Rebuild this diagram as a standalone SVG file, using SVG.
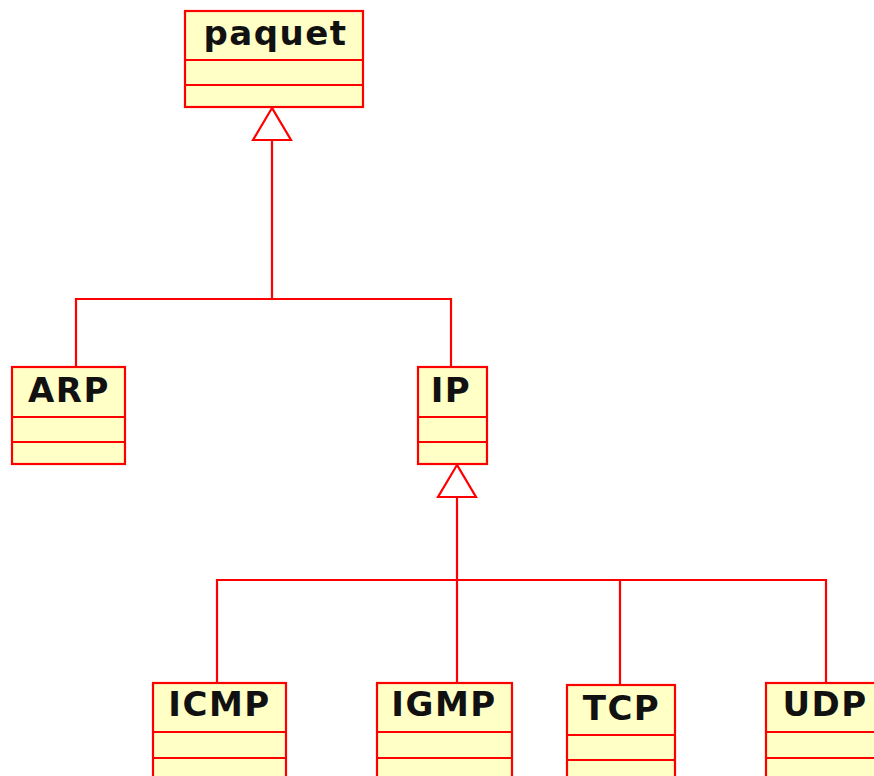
<svg xmlns="http://www.w3.org/2000/svg" width="874" height="776" viewBox="0 0 874 776">
<style>
.box{fill:#ffffc6;stroke:#ff0000;stroke-width:2.2}
.div{stroke:#ff0000;stroke-width:2.2}
.lbl{font-family:"DejaVu Sans",sans-serif;font-weight:bold;font-size:34px;letter-spacing:1.5px;fill:#111;text-anchor:middle}
.con{fill:none;stroke:#ff0000;stroke-width:2.2}
.tri{fill:#ffffff;stroke:#ff0000;stroke-width:2.2}
</style>
<rect width="874" height="776" fill="#ffffff"/>
<g id="connectors">
<polyline class="con" points="272,140 272,299"/>
<polyline class="con" points="76,367 76,299 451,299 451,367"/>
<polygon class="tri" points="272,108 253,140 291,140"/>
<polyline class="con" points="457,497 457,683"/>
<polyline class="con" points="217,683 217,580 826,580 826,683"/>
<polyline class="con" points="620,580 620,685"/>
<polygon class="tri" points="457,465 438,497 476,497"/>
</g>
<g id="paquet">
<rect class="box" x="185" y="11" width="178" height="96"/>
<line class="div" x1="185" y1="60" x2="363" y2="60"/>
<line class="div" x1="185" y1="85" x2="363" y2="85"/>
<text class="lbl" x="275.5" y="45">paquet</text>
</g>
<g id="ARP">
<rect class="box" x="12" y="367" width="113" height="97"/>
<line class="div" x1="12" y1="417" x2="125" y2="417"/>
<line class="div" x1="12" y1="442" x2="125" y2="442"/>
<text class="lbl" x="69" y="402">ARP</text>
</g>
<g id="IP">
<rect class="box" x="418" y="367" width="69" height="97"/>
<line class="div" x1="418" y1="417" x2="487" y2="417"/>
<line class="div" x1="418" y1="442" x2="487" y2="442"/>
<text class="lbl" x="451" y="402">IP</text>
</g>
<g id="ICMP">
<rect class="box" x="153" y="683" width="133" height="110"/>
<line class="div" x1="153" y1="732" x2="286" y2="732"/>
<line class="div" x1="153" y1="758" x2="286" y2="758"/>
<text class="lbl" x="219.5" y="716">ICMP</text>
</g>
<g id="IGMP">
<rect class="box" x="377" y="683" width="135" height="110"/>
<line class="div" x1="377" y1="732" x2="512" y2="732"/>
<line class="div" x1="377" y1="758" x2="512" y2="758"/>
<text class="lbl" x="444" y="716">IGMP</text>
</g>
<g id="TCP">
<rect class="box" x="567" y="685" width="108" height="110"/>
<line class="div" x1="567" y1="735" x2="675" y2="735"/>
<line class="div" x1="567" y1="760" x2="675" y2="760"/>
<text class="lbl" x="621.5" y="720">TCP</text>
</g>
<g id="UDP">
<rect class="box" x="766" y="683" width="120" height="110"/>
<line class="div" x1="766" y1="732" x2="886" y2="732"/>
<line class="div" x1="766" y1="758" x2="886" y2="758"/>
<text class="lbl" x="825" y="716">UDP</text>
</g>
</svg>
